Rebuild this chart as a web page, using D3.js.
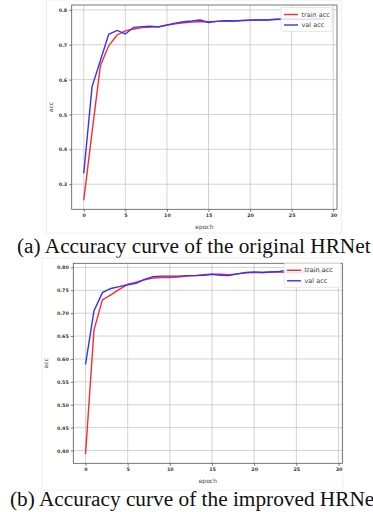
<!DOCTYPE html>
<html>
<head>
<meta charset="utf-8">
<script src="https://cdn.jsdelivr.net/npm/d3@7"></script>
<style>
  body { margin: 0; background: #fff; }
  svg { display: block; }
  .tick text { font-family: "DejaVu Sans", sans-serif; font-size: 4.8px; font-weight: bold; fill: #333; }
</style>
</head>
<body>
<svg id="chart" width="373" height="512"></svg>
<script>
// epochs shared by both runs
var epochs = [0, 1, 2, 3, 4, 5, 6, 7, 8, 9, 10, 11, 12, 13, 14, 15, 16, 17, 18, 19, 20, 21, 22, 23, 24, 25, 26, 27, 28, 29];

// (a) original HRNet
var trainAccA = [0.254, 0.450, 0.640, 0.697, 0.728, 0.740, 0.745, 0.749, 0.751, 0.752, 0.756, 0.760, 0.763, 0.765, 0.766, 0.766, 0.767, 0.768, 0.768, 0.769, 0.770, 0.771, 0.771, 0.772, 0.773, 0.773, 0.772, 0.773, 0.773, 0.773];
var valAccA = [0.331, 0.580, 0.655, 0.730, 0.741, 0.731, 0.750, 0.752, 0.753, 0.751, 0.757, 0.762, 0.766, 0.768, 0.771, 0.764, 0.767, 0.769, 0.768, 0.770, 0.771, 0.771, 0.771, 0.773, 0.774, 0.774, 0.773, 0.773, 0.774, 0.774];

// (b) improved HRNet
var trainAccB = [0.392, 0.663, 0.729, 0.740, 0.752, 0.763, 0.768, 0.773, 0.777, 0.778, 0.778, 0.779, 0.781, 0.782, 0.784, 0.785, 0.785, 0.784, 0.786, 0.788, 0.789, 0.789, 0.790, 0.790, 0.789, 0.788, 0.790, 0.791, 0.790, 0.791];
var valAccB = [0.588, 0.705, 0.745, 0.754, 0.758, 0.762, 0.765, 0.774, 0.780, 0.781, 0.781, 0.781, 0.782, 0.782, 0.783, 0.785, 0.783, 0.782, 0.786, 0.789, 0.790, 0.789, 0.790, 0.791, 0.794, 0.794, 0.792, 0.791, 0.792, 0.792];

var xTicks = [0, 5, 10, 15, 20, 25, 30];
var yTicksA = [0.3, 0.4, 0.5, 0.6, 0.7, 0.8];
var yTicksB = [0.40, 0.45, 0.50, 0.55, 0.60, 0.65, 0.70, 0.75, 0.80];
var seriesNames = ["train acc", "val acc"];
var captions = ["(a) Accuracy curve of the original HRNet", "(b) Accuracy curve of the improved HRNet"];

var svg = d3.select("#chart");

function drawPanel(opt) {
  var g = svg.append("g");

  // faint figure border
  g.append("rect")
    .attr("x", opt.fig[0]).attr("y", opt.fig[1])
    .attr("width", opt.fig[2]).attr("height", opt.fig[3])
    .attr("fill", "none").attr("stroke", "#ececec").attr("stroke-width", 0.8);

  var x = d3.scaleLinear().domain([-1.45, 30.45]).range([opt.left, opt.right]);
  var y = d3.scaleLinear().domain(opt.yDomain).range([opt.bottom, opt.top]);

  // grid
  g.selectAll(".gx").data(xTicks).enter().append("line")
    .attr("x1", function(d) { return x(d); }).attr("x2", function(d) { return x(d); })
    .attr("y1", opt.top).attr("y2", opt.bottom)
    .attr("stroke", "#c6c6c6").attr("stroke-width", 0.8);
  g.selectAll(".gy").data(opt.yTicks).enter().append("line")
    .attr("y1", function(d) { return y(d); }).attr("y2", function(d) { return y(d); })
    .attr("x1", opt.left).attr("x2", opt.right)
    .attr("stroke", "#c6c6c6").attr("stroke-width", 0.8);

  var line = d3.line()
    .x(function(d, i) { return x(epochs[i]); })
    .y(function(d) { return y(d); });

  g.append("path").datum(opt.train).attr("d", line)
    .attr("fill", "none").attr("stroke", "#ff2a2a").attr("stroke-width", 1.4);
  g.append("path").datum(opt.val).attr("d", line)
    .attr("fill", "none").attr("stroke", "#3333ff").attr("stroke-width", 1.4);

  // axes
  var xAxis = d3.axisBottom(x).tickValues(xTicks).tickSize(2.5).tickPadding(2).tickFormat(d3.format("d"));
  var gx = g.append("g").attr("transform", "translate(0," + opt.bottom + ")").call(xAxis);
  var yAxis = d3.axisLeft(y).tickValues(opt.yTicks).tickSize(2.5).tickPadding(2).tickFormat(d3.format(opt.yFormat));
  var gy = g.append("g").attr("transform", "translate(" + opt.left + ",0)").call(yAxis);
  [gx, gy].forEach(function(a) {
    a.select(".domain").remove();
    a.selectAll(".tick line").attr("stroke", "#444").attr("stroke-width", 0.7);
  });

  // frame
  g.append("rect")
    .attr("x", opt.left).attr("y", opt.top)
    .attr("width", opt.right - opt.left).attr("height", opt.bottom - opt.top)
    .attr("fill", "none").attr("stroke", "#555").attr("stroke-width", 0.8);

  g.append("text").text("epoch")
    .attr("x", (opt.left + opt.right) / 2).attr("y", opt.bottom + 20)
    .attr("text-anchor", "middle")
    .style("font-family", "DejaVu Sans, sans-serif").style("font-size", "6px").style("fill", "#444");
  g.append("text").text("acc")
    .attr("transform", "translate(" + opt.accX + "," + ((opt.top + opt.bottom) / 2) + ") rotate(-90)")
    .attr("text-anchor", "middle")
    .style("font-family", "DejaVu Sans, sans-serif").style("font-size", "6px").style("fill", "#444");

  // legend
  var lg = g.append("g").attr("transform", "translate(" + opt.legend[0] + "," + opt.legend[1] + ")");
  lg.append("rect").attr("width", opt.legend[2]).attr("height", 24).attr("rx", 1.5)
    .attr("fill", "#fff").attr("fill-opacity", 0.85).attr("stroke", "#dcdcdc").attr("stroke-width", 0.7);
  var colors = ["#ff2a2a", "#3333ff"];
  seriesNames.forEach(function(name, i) {
    lg.append("line").attr("x1", 3).attr("x2", 17).attr("y1", 7 + i * 10.5).attr("y2", 7 + i * 10.5)
      .attr("stroke", colors[i]).attr("stroke-width", 1.4);
    lg.append("text").text(name).attr("x", 20.5).attr("y", 9.2 + i * 10.5)
      .style("font-family", "DejaVu Sans, sans-serif").style("font-size", "6.5px").style("fill", "#444");
  });

  svg.append("text").text(opt.caption)
    .attr("x", opt.capX).attr("y", opt.capY)
    .style("font-family", "Liberation Serif, serif").style("font-size", "21.3px").style("fill", "#111");
}

drawPanel({
  fig: [46.5, 0, 295, 233],
  left: 71.7, right: 337, top: 5, bottom: 209.3,
  yDomain: [0.228, 0.814], yTicks: yTicksA, yFormat: ".1f",
  train: trainAccA, val: valAccA,
  accX: 53, legend: [281, 7.5, 51],
  caption: captions[0], capX: 17, capY: 253
});

drawPanel({
  fig: [42, 258, 301, 232],
  left: 73.3, right: 342.3, top: 263.3, bottom: 463.3,
  yDomain: [0.372, 0.809], yTicks: yTicksB, yFormat: ".2f",
  train: trainAccB, val: valAccB,
  accX: 47.5, legend: [284, 263.3, 57],
  caption: captions[1], capX: 10, capY: 506
});
</script>
</body>
</html>
